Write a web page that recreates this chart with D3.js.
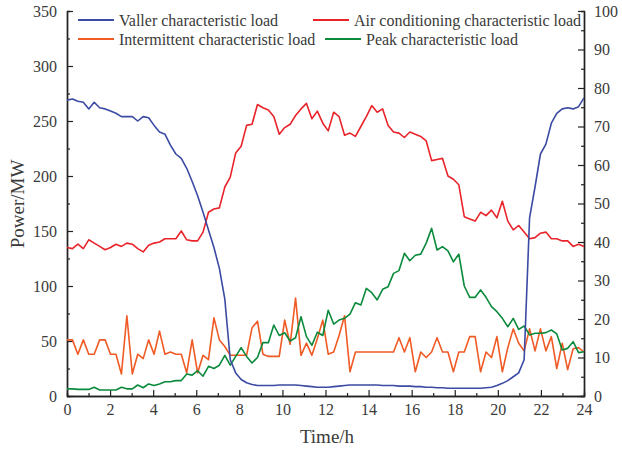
<!DOCTYPE html>
<html><head><meta charset="utf-8">
<script src="https://cdn.jsdelivr.net/npm/d3@7"></script>
<style>
body{margin:0;background:#fff;}
svg text{font-family:"Liberation Serif","Times New Roman",serif;}
</style>
</head><body>
<svg id="c" width="622" height="450" font-family="Liberation Serif, Times New Roman, serif"></svg>
<script>
// ---- data (96 samples over 0..24 h) ----
const hourTicks = [0,2,4,6,8,10,12,14,16,18,20,22,24];
const hourMinor = [1,3,5,7,9,11,13,15,17,19,21,23];
const powerTicks = [0,50,100,150,200,250,300,350];
const powerMinor = [25,75,125,175,225,275,325];
const rightTicks = [0,10,20,30,40,50,60,70,80,90,100];
const rightMinor = [5,15,25,35,45,55,65,75,85,95];

const valler = [269,270,268,267,261,267,262,261,259,257,254,254,254,250,254,253,246,240,238,228,220,216,207,195,182,167,151,135,116,88,33,21,15,12,10.5,9.5,
  9.5,9.5,9.5,10,10,10,10,9.5,9,8.5,8,8,8,8.5,9,9.5,10,10,10,10,10,10,9.5,9.5,9.5,9,9,9,8.5,8.5,8,8,7.5,7.5,
  7,7,7,7,7,7,7,7.5,8,9.5,11.5,14,17.5,21,33,162,190,220,229,248,257,261,262,261,263,271];
const airCond = [135,134,138,134,142,139,136,133,135,138,136,139,138,134,131,137,139,140,143,143,143,150,142,141,141,149,167,170,171,190,199,221,227,246,247,265,
  262,260,254,238,244,247,255,261,266,252,259,248,241,258,254,237,239,236,245,254,264,258,261,246,240,239,235,240,238,236,232,214,215,216,
  200,197,192,163,161,159,167,164,169,162,177,159,151,155,149,143,144,148,149,143,143,141,141,136,138,136];
const intermittent = [51,51,38,51,38,38,51,51,38,38,20,73,20,38,34,51,38,59,38,40,38,38,21,51,21,37,33,71,51,45,37,37,37,37,62,68,
  38,36,36,36,69,47,89,37,48,37,52,69,38,40,55,73,22,40,40,40,40,40,40,40,40,53,40,53,22,40,35,40,53,40,
  40,22,40,40,54,54,22,40,35,54,22,44,61,48,41,61,41,61,41,54,25,48,24,43,44,40];
const peak = [6.5,6.5,6,6,6,8,5.5,5.5,5.5,5.5,8,6.5,6.5,10,7.5,11,9.5,11,13,13,14,14,20,19,23,18,27,25,28,37,28,36,44,36,30,35,
  48.5,48.5,64.5,55,57.5,50,53,72,54,46,58,55,78,65.4,69,70.6,74.5,84.8,82.7,97.8,93.9,87.3,97,99.4,111.5,114,129.7,123,128,129,
  139,152.4,132.7,135.8,132,122,129,100,89.7,89.7,96.4,89.7,81.2,76.7,70.6,63,70.6,60.6,63.6,55.5,57,57,57.6,60,56.4,41.8,43.3,49.4,39.4,40.3];

const seriesNames = ["Valler characteristic load","Air conditioning characteristic load","Intermittent characteristic load","Peak characteristic load"];
const seriesColors = ["#3b4aa3","#e8242a","#f05a24","#0b8a3c"];

// ---- layout ----
const FONT = '"Liberation Serif","Times New Roman",serif';
const svg = d3.select("#c");
const L = 67, R = 584, T = 11, B = 396;
const xAxis = d3.scaleLinear().domain([0,24]).range([L,R]);
const xIdx = d3.scaleLinear().domain([0,valler.length-1]).range([L,R]);
const y = d3.scaleLinear().domain([0,350]).range([B,T]);
const y2 = d3.scaleLinear().domain([0,100]).range([B,T]);

const axisColor = "#222", labelColor = "#3a3a3a";
function styleAxis(g){
  g.attr("font-family",FONT).attr("font-size",16);
  g.select(".domain").attr("stroke",axisColor).attr("stroke-width",1.4);
  g.selectAll(".tick line").attr("stroke",axisColor).attr("stroke-width",1.2);
  g.selectAll(".tick text").attr("fill",labelColor).style("font-size","16px")
    .style("font-family",FONT);
}

// minor ticks
svg.append("g").attr("transform",`translate(${L},0)`)
  .call(d3.axisLeft(y).tickValues(powerMinor).tickSize(-3).tickFormat("")).call(styleAxis);
svg.append("g").attr("transform",`translate(${R},0)`)
  .call(d3.axisRight(y2).tickValues(rightMinor).tickSize(-3).tickFormat("")).call(styleAxis);
svg.append("g").attr("transform",`translate(0,${B})`)
  .call(d3.axisBottom(xAxis).tickValues(hourMinor).tickSize(-3).tickFormat("")).call(styleAxis);

// major axes
svg.append("g").attr("transform",`translate(${L},0)`)
  .call(d3.axisLeft(y).tickValues(powerTicks).tickSize(-6).tickSizeOuter(0).tickPadding(10)).call(styleAxis);
svg.append("g").attr("transform",`translate(${R},0)`)
  .call(d3.axisRight(y2).tickValues(rightTicks).tickSize(-6).tickSizeOuter(0).tickPadding(10)).call(styleAxis);
svg.append("g").attr("transform",`translate(0,${B})`)
  .call(d3.axisBottom(xAxis).tickValues(hourTicks).tickSize(-6).tickSizeOuter(0).tickPadding(8)).call(styleAxis);

// lines
const allSeries = [valler, airCond, intermittent, peak];
const line = d3.line().x((d,i)=>xIdx(i)).y(d=>y(d));
const drawOrder = [2,3,1,0];
drawOrder.forEach(k=>{
  svg.append("path").datum(allSeries[k]).attr("d",line)
    .attr("fill","none").attr("stroke",seriesColors[k]).attr("stroke-width",1.6)
    .attr("stroke-linejoin","round");
});

// axis titles
svg.append("text").attr("transform","translate(24,204) rotate(-90)").attr("text-anchor","middle")
  .attr("font-family",FONT).attr("fill",labelColor).style("font-size","19px").text("Power/MW");
svg.append("text").attr("x",327).attr("y",443).attr("text-anchor","middle")
  .attr("font-family",FONT).attr("fill",labelColor).style("font-size","19px").text("Time/h");

// legend
const legendPos = [[78,20],[313,20],[78,39],[325,39]];
seriesNames.forEach((name,k)=>{
  const [lx,ly] = legendPos[k];
  svg.append("line").attr("x1",lx).attr("x2",lx+36).attr("y1",ly).attr("y2",ly)
    .attr("stroke",seriesColors[k]).attr("stroke-width",2);
  svg.append("text").attr("x",lx+41).attr("y",ly+5.5).attr("font-family",FONT).attr("fill",labelColor)
    .style("font-size","16px").text(name);
});
</script>
</body></html>
